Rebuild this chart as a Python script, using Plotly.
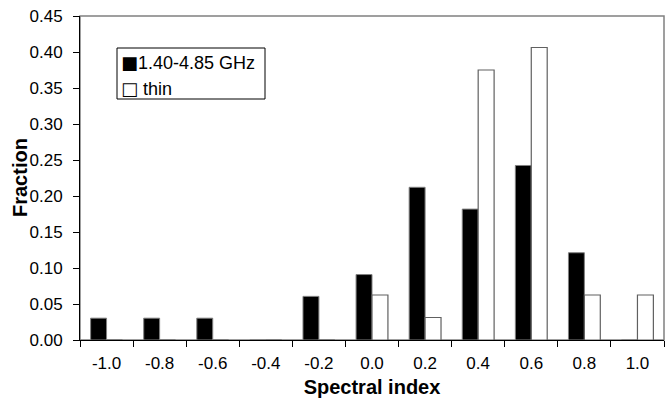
import plotly.graph_objects as go

categories = ["-1.0", "-0.8", "-0.6", "-0.4", "-0.2", "0.0", "0.2", "0.4", "0.6", "0.8", "1.0"]
ghz_values = [0.0303, 0.0303, 0.0303, 0.0, 0.0606, 0.0909, 0.2121, 0.1818, 0.2424, 0.1212, 0.0]
thin_values = [0.0, 0.0, 0.0, 0.0, 0.0, 0.0625, 0.03125, 0.375, 0.40625, 0.0625, 0.0625]
y_ticks = [0.0, 0.05, 0.10, 0.15, 0.20, 0.25, 0.30, 0.35, 0.40, 0.45]
y_ticklabels = ["0.00", "0.05", "0.10", "0.15", "0.20", "0.25", "0.30", "0.35", "0.40", "0.45"]
series_names = ["1.40-4.85 GHz", "thin"]
x_title = "Spectral index"
y_title = "Fraction"

FONT = "Liberation Sans, Arial, sans-serif"

# plot-area geometry (pixels) used only to place the hand-built legend box and y title
L, R, T, B = 80, 664, 16, 340
def px(xp):
    return (xp - L) / (R - L)
def py(yp):
    return (B - yp) / (B - T)

fig = go.Figure()
fig.add_trace(go.Bar(x=categories, y=ghz_values, name=series_names[0],
                     marker=dict(color="black", line=dict(color="#808080", width=1))))
fig.add_trace(go.Bar(x=categories, y=thin_values, name=series_names[1],
                     marker=dict(color="white", line=dict(color="#606060", width=1.2))))

sym = "<span style='font-family:DejaVu Sans'>{}</span>"
legend_lines = [sym.format("■") + series_names[0], sym.format("□") + " " + series_names[1]]
legend_y = [62.5, 88]

annotations = [dict(text=t, xref="paper", yref="paper", x=px(120), y=py(yy),
                    xanchor="left", yanchor="middle", showarrow=False, align="left",
                    font=dict(size=18), borderpad=0)
               for t, yy in zip(legend_lines, legend_y)]
annotations.append(dict(text="<b>" + y_title + "</b>", xref="paper", yref="paper",
                        x=px(20), y=0.5, xanchor="center", yanchor="middle",
                        textangle=-90, showarrow=False, font=dict(size=20)))

fig.update_layout(
    width=665, height=400,
    margin=dict(l=L, r=665 - R, t=T, b=400 - B),
    paper_bgcolor="white", plot_bgcolor="white",
    barmode="group", bargap=0.4, bargroupgap=0,
    font=dict(family=FONT, size=17, color="black"),
    showlegend=False,
    shapes=[dict(type="rect", xref="paper", yref="paper", x0=0, x1=1, y0=0, y1=1,
                 line=dict(color="#808080", width=1.5), layer="below"),
            dict(type="rect", xref="paper", yref="paper", x0=px(117), x1=px(265),
                 y0=py(99), y1=py(48), line=dict(color="black", width=1),
                 fillcolor="white", layer="above")],
    annotations=annotations,
)
fig.update_xaxes(
    type="category", tickson="boundaries", ticks="outside", ticklen=6, tickcolor="black",
    showline=True, linecolor="black", linewidth=1, showgrid=False, zeroline=False,
    ticklabelstandoff=8,
    title=dict(text="<b>" + x_title + "</b>", font=dict(size=20), standoff=7),
    tickfont=dict(size=17),
)
fig.update_yaxes(
    range=[0, 0.45], tickvals=y_ticks, ticktext=y_ticklabels,
    ticks="outside", ticklen=6, tickcolor="black",
    showline=True, linecolor="black", linewidth=1, showgrid=False, zeroline=False,
    ticklabelstandoff=7,
    tickfont=dict(size=17),
)

fig.write_html("out.html", config={"displayModeBar": False},
               post_script="document.body.style.margin='0';")
